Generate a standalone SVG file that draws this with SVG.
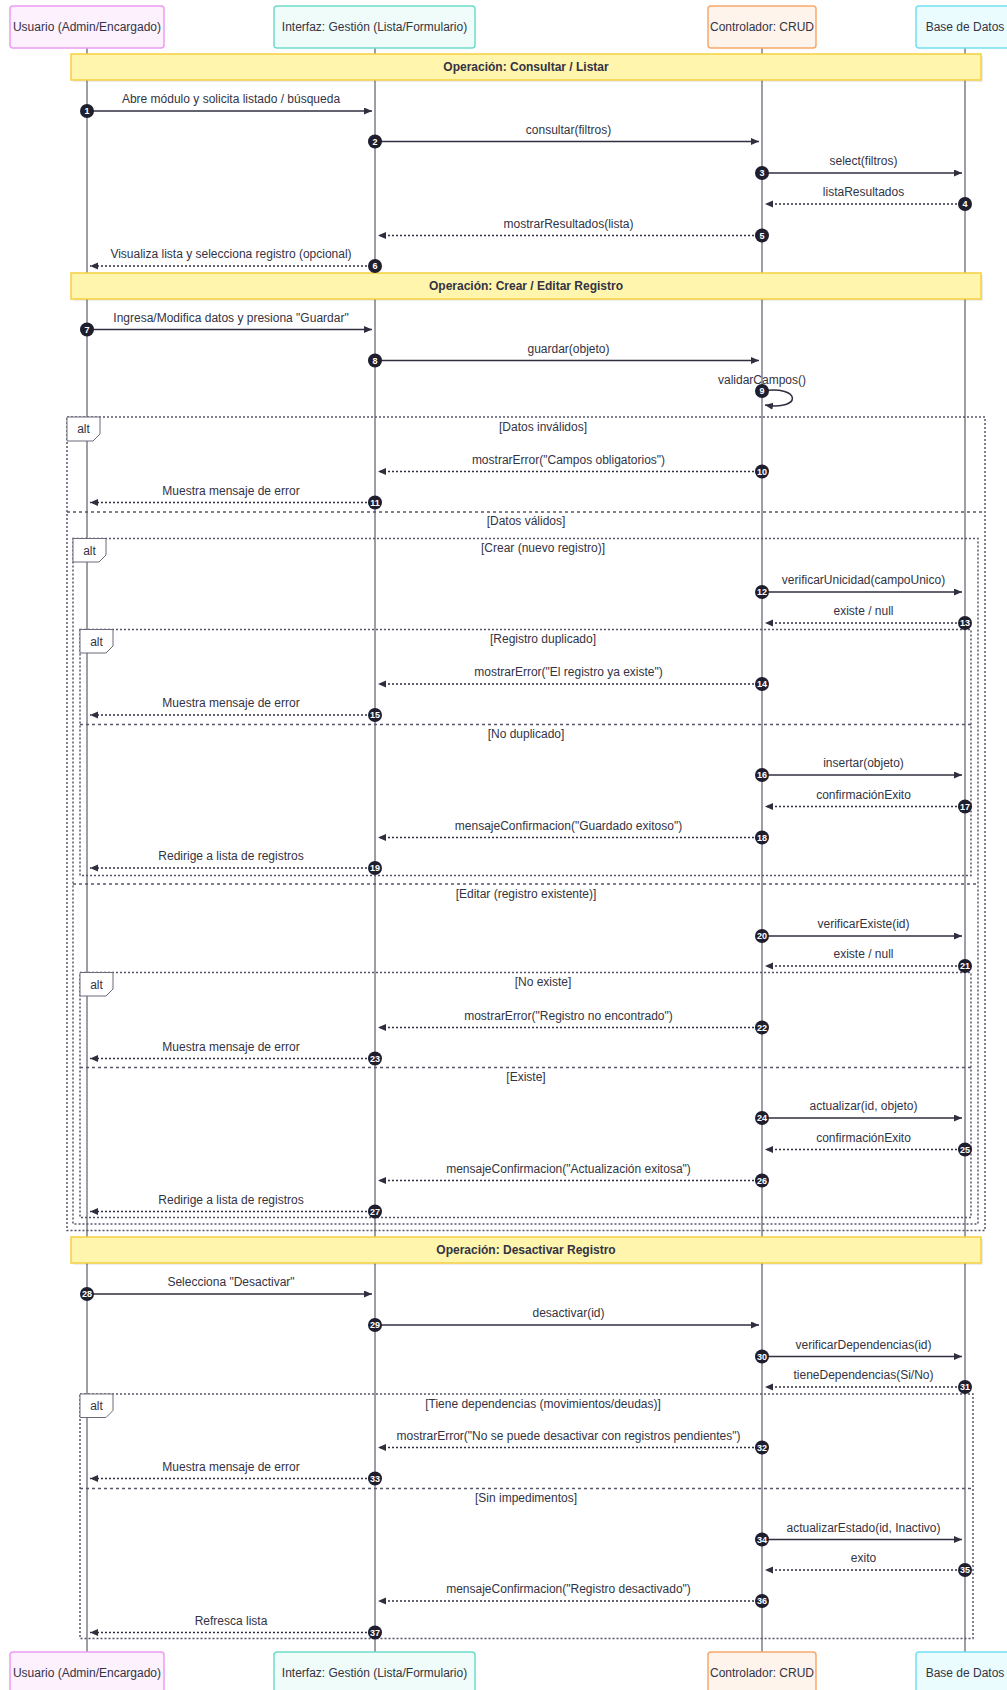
<svg xmlns="http://www.w3.org/2000/svg" width="1007" height="1690" viewBox="0 0 1007 1690">
  <style>
    text { font-family: "Liberation Sans", Arial, sans-serif; fill: #333344; }
    .lbl { font-size: 12px; text-anchor: middle; }
    .actor-t { font-size: 12px; text-anchor: middle; }
    .note-t { font-size: 12px; font-weight: bold; text-anchor: middle; }
    .guard { font-size: 12px; text-anchor: middle; }
    .lifeline { stroke: #3d3d4d; stroke-width: 1; }
    .msg { stroke: #2f2f40; stroke-width: 1.5; fill: none; marker-end: url(#arrow); }
    .ret { stroke: #2f2f40; stroke-width: 1.5; fill: none; stroke-dasharray: 2,2; marker-end: url(#arrow); }
    .seq circle { fill: #1e1e2e; }
    .seq text { font-size: 9px; fill: #ffffff; text-anchor: middle; font-weight: bold; }
    .frame { fill: none; stroke: #55556a; stroke-width: 1.5; stroke-dasharray: 2,2; }
    .divider { stroke: #55556a; stroke-width: 1.5; stroke-dasharray: 3,3; }
    .albox { fill: #ffffff; stroke: #6a6a7a; stroke-width: 1; }
    .note { fill: #fff5ad; stroke: #f5d040; stroke-width: 1.5; }
    .shadow { fill: #000000; opacity: 0.07; }
  </style>
  <defs>
    <marker id="arrow" markerUnits="userSpaceOnUse" markerWidth="9" markerHeight="8" refX="8" refY="3.5" orient="auto">
      <path d="M0,0 L8,3.5 L0,7 z" fill="#2f2f40"/>
    </marker>
  </defs>

  <rect width="1007" height="1690" fill="#ffffff"/>

  <!-- lifelines -->
  <g id="lifelines">
    <line class="lifeline" x1="87" y1="48" x2="87" y2="1652"/>
    <line class="lifeline" x1="375" y1="48" x2="375" y2="1652"/>
    <line class="lifeline" x1="762" y1="48" x2="762" y2="1652"/>
    <line class="lifeline" x1="965" y1="48" x2="965" y2="1652"/>
  </g>

  <!-- participants (top) -->
  <g id="actor-usuario-top">
    <rect x="10" y="6" width="154" height="42" rx="3" fill="#fdf1fe" stroke="#ec9cf2" stroke-width="1.5"/>
    <text class="actor-t" x="87" y="31">Usuario (Admin/Encargado)</text>
  </g>
  <g id="actor-interfaz-top">
    <rect x="274" y="6" width="201" height="42" rx="3" fill="#effcf9" stroke="#6fdcc9" stroke-width="1.5"/>
    <text class="actor-t" x="374.5" y="31">Interfaz: Gestión (Lista/Formulario)</text>
  </g>
  <g id="actor-controlador-top">
    <rect x="708" y="6" width="108" height="42" rx="3" fill="#fff4ec" stroke="#f6a96c" stroke-width="1.5"/>
    <text class="actor-t" x="762" y="31">Controlador: CRUD</text>
  </g>
  <g id="actor-bd-top">
    <rect x="916" y="6" width="98" height="42" rx="3" fill="#ebfcff" stroke="#72e0f2" stroke-width="1.5"/>
    <text class="actor-t" x="965" y="31">Base de Datos</text>
  </g>

  <!-- section notes -->
  <g id="note-consultar">
    <rect class="shadow" x="73" y="56" width="910" height="26"/>
    <rect class="note" x="71" y="54" width="910" height="26"/>
    <text class="note-t" x="526" y="71">Operación: Consultar / Listar</text>
  </g>
  <g id="note-crear">
    <rect class="shadow" x="73" y="275" width="910" height="26"/>
    <rect class="note" x="71" y="273" width="910" height="26"/>
    <text class="note-t" x="526" y="290">Operación: Crear / Editar Registro</text>
  </g>
  <g id="note-desactivar">
    <rect class="shadow" x="73" y="1239" width="910" height="26"/>
    <rect class="note" x="71" y="1237" width="910" height="26"/>
    <text class="note-t" x="526" y="1254">Operación: Desactivar Registro</text>
  </g>

  <!-- alt fragments -->
  <g id="alt-validacion">
    <rect class="frame" x="67" y="417" width="918" height="813.5"/>
    <line class="divider" x1="67" y1="512" x2="985" y2="512"/>
    <path class="albox" d="M67,417 H100 V434 L93,441 H67 Z"/>
    <text class="guard" x="83.5" y="433">alt</text>
    <text class="guard" x="543" y="431">[Datos inválidos]</text>
    <text class="guard" x="526" y="525">[Datos válidos]</text>
  </g>
  <g id="alt-crear-editar">
    <rect class="frame" x="73" y="538.5" width="905" height="685.5"/>
    <line class="divider" x1="73" y1="884" x2="978" y2="884"/>
    <path class="albox" d="M73,538.5 H106 V555 L99,562 H73 Z"/>
    <text class="guard" x="89.5" y="554.5">alt</text>
    <text class="guard" x="543" y="552">[Crear (nuevo registro)]</text>
    <text class="guard" x="526" y="897.5">[Editar (registro existente)]</text>
  </g>
  <g id="alt-duplicado">
    <rect class="frame" x="80" y="629.5" width="891" height="246"/>
    <line class="divider" x1="80" y1="724.5" x2="971" y2="724.5"/>
    <path class="albox" d="M80,629.5 H113 V646 L106,653 H80 Z"/>
    <text class="guard" x="96.5" y="645.5">alt</text>
    <text class="guard" x="543" y="643">[Registro duplicado]</text>
    <text class="guard" x="526" y="737.5">[No duplicado]</text>
  </g>
  <g id="alt-existe">
    <rect class="frame" x="80" y="972.5" width="891" height="245"/>
    <line class="divider" x1="80" y1="1067.5" x2="971" y2="1067.5"/>
    <path class="albox" d="M80,972.5 H113 V989 L106,996 H80 Z"/>
    <text class="guard" x="96.5" y="988.5">alt</text>
    <text class="guard" x="543" y="986">[No existe]</text>
    <text class="guard" x="526" y="1080.5">[Existe]</text>
  </g>
  <g id="alt-dependencias">
    <rect class="frame" x="80" y="1394" width="893" height="244.5"/>
    <line class="divider" x1="80" y1="1488.5" x2="973" y2="1488.5"/>
    <path class="albox" d="M80,1394 H113 V1410.5 L106,1417.5 H80 Z"/>
    <text class="guard" x="96.5" y="1410">alt</text>
    <text class="guard" x="543" y="1407.5">[Tiene dependencias (movimientos/deudas)]</text>
    <text class="guard" x="526" y="1501.5">[Sin impedimentos]</text>
  </g>

  <!-- messages -->
  <g id="connectors">
    <line class="msg" x1="87" y1="111" x2="372" y2="111"/>
    <text class="lbl" x="231" y="103">Abre módulo y solicita listado / búsqueda</text>
    <line class="msg" x1="375" y1="141.5" x2="759" y2="141.5"/>
    <text class="lbl" x="568.5" y="133.5">consultar(filtros)</text>
    <line class="msg" x1="762" y1="173" x2="962" y2="173"/>
    <text class="lbl" x="863.5" y="165">select(filtros)</text>
    <line class="ret" x1="965" y1="204" x2="765" y2="204"/>
    <text class="lbl" x="863.5" y="196">listaResultados</text>
    <line class="ret" x1="762" y1="235.5" x2="378" y2="235.5"/>
    <text class="lbl" x="568.5" y="227.5">mostrarResultados(lista)</text>
    <line class="ret" x1="375" y1="266" x2="90" y2="266"/>
    <text class="lbl" x="231" y="258">Visualiza lista y selecciona registro (opcional)</text>

    <line class="msg" x1="87" y1="329.5" x2="372" y2="329.5"/>
    <text class="lbl" x="231" y="321.5">Ingresa/Modifica datos y presiona "Guardar"</text>
    <line class="msg" x1="375" y1="360.5" x2="759" y2="360.5"/>
    <text class="lbl" x="568.5" y="352.5">guardar(objeto)</text>
    <path class="msg" d="M762,391 C802,385 802,411 765,405"/>
    <text class="lbl" x="762" y="384">validarCampos()</text>

    <line class="ret" x1="762" y1="471.5" x2="378" y2="471.5"/>
    <text class="lbl" x="568.5" y="463.5">mostrarError("Campos obligatorios")</text>
    <line class="ret" x1="375" y1="502.5" x2="90" y2="502.5"/>
    <text class="lbl" x="231" y="494.5">Muestra mensaje de error</text>

    <line class="msg" x1="762" y1="592" x2="962" y2="592"/>
    <text class="lbl" x="863.5" y="584">verificarUnicidad(campoUnico)</text>
    <line class="ret" x1="965" y1="623" x2="765" y2="623"/>
    <text class="lbl" x="863.5" y="615">existe / null</text>

    <line class="ret" x1="762" y1="684" x2="378" y2="684"/>
    <text class="lbl" x="568.5" y="676">mostrarError("El registro ya existe")</text>
    <line class="ret" x1="375" y1="715" x2="90" y2="715"/>
    <text class="lbl" x="231" y="707">Muestra mensaje de error</text>

    <line class="msg" x1="762" y1="775" x2="962" y2="775"/>
    <text class="lbl" x="863.5" y="767">insertar(objeto)</text>
    <line class="ret" x1="965" y1="806.5" x2="765" y2="806.5"/>
    <text class="lbl" x="863.5" y="798.5">confirmaciónExito</text>
    <line class="ret" x1="762" y1="837.5" x2="378" y2="837.5"/>
    <text class="lbl" x="568.5" y="829.5">mensajeConfirmacion("Guardado exitoso")</text>
    <line class="ret" x1="375" y1="868" x2="90" y2="868"/>
    <text class="lbl" x="231" y="860">Redirige a lista de registros</text>

    <line class="msg" x1="762" y1="936" x2="962" y2="936"/>
    <text class="lbl" x="863.5" y="928">verificarExiste(id)</text>
    <line class="ret" x1="965" y1="966" x2="765" y2="966"/>
    <text class="lbl" x="863.5" y="958">existe / null</text>

    <line class="ret" x1="762" y1="1027.5" x2="378" y2="1027.5"/>
    <text class="lbl" x="568.5" y="1019.5">mostrarError("Registro no encontrado")</text>
    <line class="ret" x1="375" y1="1058.5" x2="90" y2="1058.5"/>
    <text class="lbl" x="231" y="1050.5">Muestra mensaje de error</text>

    <line class="msg" x1="762" y1="1118" x2="962" y2="1118"/>
    <text class="lbl" x="863.5" y="1110">actualizar(id, objeto)</text>
    <line class="ret" x1="965" y1="1149.5" x2="765" y2="1149.5"/>
    <text class="lbl" x="863.5" y="1141.5">confirmaciónExito</text>
    <line class="ret" x1="762" y1="1180.5" x2="378" y2="1180.5"/>
    <text class="lbl" x="568.5" y="1172.5">mensajeConfirmacion("Actualización exitosa")</text>
    <line class="ret" x1="375" y1="1211.5" x2="90" y2="1211.5"/>
    <text class="lbl" x="231" y="1203.5">Redirige a lista de registros</text>

    <line class="msg" x1="87" y1="1294" x2="372" y2="1294"/>
    <text class="lbl" x="231" y="1286">Selecciona "Desactivar"</text>
    <line class="msg" x1="375" y1="1325" x2="759" y2="1325"/>
    <text class="lbl" x="568.5" y="1317">desactivar(id)</text>
    <line class="msg" x1="762" y1="1356.5" x2="962" y2="1356.5"/>
    <text class="lbl" x="863.5" y="1348.5">verificarDependencias(id)</text>
    <line class="ret" x1="965" y1="1387" x2="765" y2="1387"/>
    <text class="lbl" x="863.5" y="1379">tieneDependencias(Si/No)</text>

    <line class="ret" x1="762" y1="1447.5" x2="378" y2="1447.5"/>
    <text class="lbl" x="568.5" y="1439.5">mostrarError("No se puede desactivar con registros pendientes")</text>
    <line class="ret" x1="375" y1="1478.5" x2="90" y2="1478.5"/>
    <text class="lbl" x="231" y="1470.5">Muestra mensaje de error</text>

    <line class="msg" x1="762" y1="1539.5" x2="962" y2="1539.5"/>
    <text class="lbl" x="863.5" y="1531.5">actualizarEstado(id, Inactivo)</text>
    <line class="ret" x1="965" y1="1570" x2="765" y2="1570"/>
    <text class="lbl" x="863.5" y="1562">exito</text>
    <line class="ret" x1="762" y1="1601" x2="378" y2="1601"/>
    <text class="lbl" x="568.5" y="1593">mensajeConfirmacion("Registro desactivado")</text>
    <line class="ret" x1="375" y1="1632.5" x2="90" y2="1632.5"/>
    <text class="lbl" x="231" y="1624.5">Refresca lista</text>
  </g>

  <!-- sequence numbers -->
  <g id="sequence-numbers" class="seq">
    <circle cx="87" cy="111" r="7"/><text x="87" y="114.2">1</text>
    <circle cx="375" cy="141.5" r="7"/><text x="375" y="144.7">2</text>
    <circle cx="762" cy="173" r="7"/><text x="762" y="176.2">3</text>
    <circle cx="965" cy="204" r="7"/><text x="965" y="207.2">4</text>
    <circle cx="762" cy="235.5" r="7"/><text x="762" y="238.7">5</text>
    <circle cx="375" cy="266" r="7"/><text x="375" y="269.2">6</text>
    <circle cx="87" cy="329.5" r="7"/><text x="87" y="332.7">7</text>
    <circle cx="375" cy="360.5" r="7"/><text x="375" y="363.7">8</text>
    <circle cx="762" cy="391" r="7"/><text x="762" y="394.2">9</text>
    <circle cx="762" cy="471.5" r="7"/><text x="762" y="474.7">10</text>
    <circle cx="375" cy="502.5" r="7"/><text x="375" y="505.7">11</text>
    <circle cx="762" cy="592" r="7"/><text x="762" y="595.2">12</text>
    <circle cx="965" cy="623" r="7"/><text x="965" y="626.2">13</text>
    <circle cx="762" cy="684" r="7"/><text x="762" y="687.2">14</text>
    <circle cx="375" cy="715" r="7"/><text x="375" y="718.2">15</text>
    <circle cx="762" cy="775" r="7"/><text x="762" y="778.2">16</text>
    <circle cx="965" cy="806.5" r="7"/><text x="965" y="809.7">17</text>
    <circle cx="762" cy="837.5" r="7"/><text x="762" y="840.7">18</text>
    <circle cx="375" cy="868" r="7"/><text x="375" y="871.2">19</text>
    <circle cx="762" cy="936" r="7"/><text x="762" y="939.2">20</text>
    <circle cx="965" cy="966" r="7"/><text x="965" y="969.2">21</text>
    <circle cx="762" cy="1027.5" r="7"/><text x="762" y="1030.7">22</text>
    <circle cx="375" cy="1058.5" r="7"/><text x="375" y="1061.7">23</text>
    <circle cx="762" cy="1118" r="7"/><text x="762" y="1121.2">24</text>
    <circle cx="965" cy="1149.5" r="7"/><text x="965" y="1152.7">25</text>
    <circle cx="762" cy="1180.5" r="7"/><text x="762" y="1183.7">26</text>
    <circle cx="375" cy="1211.5" r="7"/><text x="375" y="1214.7">27</text>
    <circle cx="87" cy="1294" r="7"/><text x="87" y="1297.2">28</text>
    <circle cx="375" cy="1325" r="7"/><text x="375" y="1328.2">29</text>
    <circle cx="762" cy="1356.5" r="7"/><text x="762" y="1359.7">30</text>
    <circle cx="965" cy="1387" r="7"/><text x="965" y="1390.2">31</text>
    <circle cx="762" cy="1447.5" r="7"/><text x="762" y="1450.7">32</text>
    <circle cx="375" cy="1478.5" r="7"/><text x="375" y="1481.7">33</text>
    <circle cx="762" cy="1539.5" r="7"/><text x="762" y="1542.7">34</text>
    <circle cx="965" cy="1570" r="7"/><text x="965" y="1573.2">35</text>
    <circle cx="762" cy="1601" r="7"/><text x="762" y="1604.2">36</text>
    <circle cx="375" cy="1632.5" r="7"/><text x="375" y="1635.7">37</text>
  </g>

  <!-- participants (bottom) -->
  <g id="actor-usuario-bottom">
    <rect x="10" y="1652" width="154" height="42" rx="3" fill="#fdf1fe" stroke="#ec9cf2" stroke-width="1.5"/>
    <text class="actor-t" x="87" y="1677">Usuario (Admin/Encargado)</text>
  </g>
  <g id="actor-interfaz-bottom">
    <rect x="274" y="1652" width="201" height="42" rx="3" fill="#effcf9" stroke="#6fdcc9" stroke-width="1.5"/>
    <text class="actor-t" x="374.5" y="1677">Interfaz: Gestión (Lista/Formulario)</text>
  </g>
  <g id="actor-controlador-bottom">
    <rect x="708" y="1652" width="108" height="42" rx="3" fill="#fff4ec" stroke="#f6a96c" stroke-width="1.5"/>
    <text class="actor-t" x="762" y="1677">Controlador: CRUD</text>
  </g>
  <g id="actor-bd-bottom">
    <rect x="916" y="1652" width="98" height="42" rx="3" fill="#ebfcff" stroke="#72e0f2" stroke-width="1.5"/>
    <text class="actor-t" x="965" y="1677">Base de Datos</text>
  </g>
</svg>
